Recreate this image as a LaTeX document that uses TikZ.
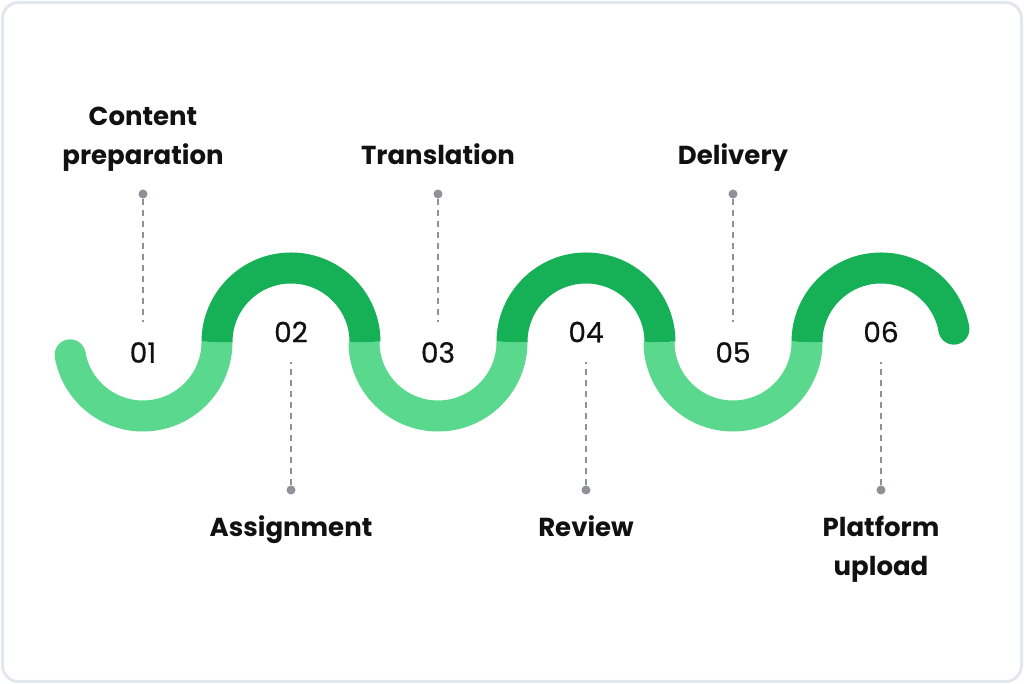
\documentclass[tikz,border=0pt]{standalone}
\usepackage{fontspec}
\setmainfont{Poppins}
\newfontfamily\numfont{Poppins}[FakeBold=0.6]
\definecolor{darkg}{HTML}{16B157}
\definecolor{lightg}{HTML}{5AD88E}
\definecolor{dotc}{HTML}{8E9297}
\definecolor{framec}{HTML}{E3E8EE}
\definecolor{txt}{HTML}{111111}
\begin{document}
\begin{tikzpicture}[x=1pt,y=1pt,
  darkarc/.style={draw=darkg,line width=31pt,line cap=butt},
  lightarc/.style={draw=lightg,line width=31pt,line cap=butt},
  dotnode/.style={circle,fill=dotc,inner sep=0pt,minimum size=9pt},
  dashline/.style={draw=dotc,line width=1.4pt,dash pattern=on 6.5pt off 4.5pt},
  numlabel/.style={font=\numfont\fontsize{28}{32}\selectfont,text=txt,inner sep=0pt},
  steplabel/.style={font=\fontsize{26}{39}\selectfont\bfseries,text=txt,align=center,inner sep=0pt}
]
\useasboundingbox (0,0) rectangle (1024,684);
\draw[framec,line width=3pt,rounded corners=16pt] (2.5,2.5) rectangle (1021.5,681.5);

% light (bottom) arcs
\draw[lightarc] (143,342) ++(190:74) arc[start angle=190,end angle=360,radius=74];
\fill[lightg] (143,342) ++(190:74) circle[radius=15.5];
\draw[lightarc] (438,342) ++(180:74) arc[start angle=180,end angle=360,radius=74];
\draw[lightarc] (733,342) ++(180:74) arc[start angle=180,end angle=360,radius=74];
% dark (top) arcs
\draw[darkarc] (291,342) ++(180:74) arc[start angle=180,end angle=0,radius=74];
\draw[darkarc] (586,342) ++(180:74) arc[start angle=180,end angle=0,radius=74];
\draw[darkarc] (881,342) ++(180:74) arc[start angle=180,end angle=10,radius=74];
\fill[darkg] (881,342) ++(10:74) circle[radius=15.5];

% numbers
\node[numlabel] (n1) at (143,331.5) {01};
\node[numlabel] (n2) at (291,352) {02};
\node[numlabel] (n3) at (438,331.5) {03};
\node[numlabel] (n4) at (586,352) {04};
\node[numlabel] (n5) at (733,331.5) {05};
\node[numlabel] (n6) at (881,352) {06};

% top connectors
\node[dotnode] (d1) at (143,490) {};
\node[dotnode] (d3) at (438,490) {};
\node[dotnode] (d5) at (733,490) {};
\coordinate (e1) at (143,362);
\coordinate (e3) at (438,362);
\coordinate (e5) at (733,362);
\draw[dashline] (d1.south) -- (e1);
\draw[dashline] (d3.south) -- (e3);
\draw[dashline] (d5.south) -- (e5);
% bottom connectors
\node[dotnode] (d2) at (291,194) {};
\node[dotnode] (d4) at (586,194) {};
\node[dotnode] (d6) at (881,194) {};
\coordinate (e2) at (291,322);
\coordinate (e4) at (586,322);
\coordinate (e6) at (881,322);
\draw[dashline] (d2.north) -- (e2);
\draw[dashline] (d4.north) -- (e4);
\draw[dashline] (d6.north) -- (e6);

% step labels
\node[steplabel,anchor=base] (t1) at (143,519) {Content\\preparation};
\node[steplabel,anchor=base] (t3) at (438,519) {Translation};
\node[steplabel,anchor=base] (t5) at (733,519) {Delivery};
\node[steplabel,anchor=base] (t2) at (291,147) {Assignment};
\node[steplabel,anchor=base] (t4) at (586,147) {Review};
\node[steplabel,anchor=base] (t6) at (881,108) {Platform\\upload};
\end{tikzpicture}
\end{document}
